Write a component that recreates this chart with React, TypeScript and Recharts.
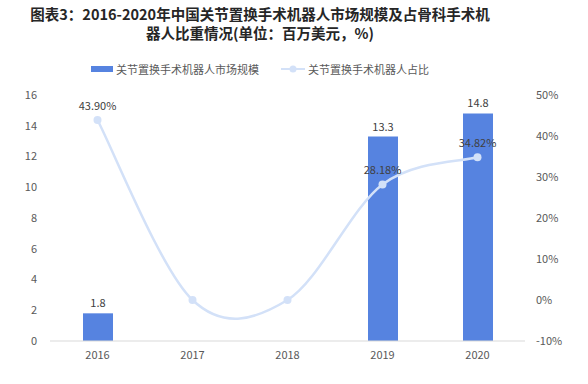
import {
  ComposedChart,
  Bar,
  Line,
  XAxis,
  YAxis,
  LabelList,
} from 'recharts';

const years = ['2016', '2017', '2018', '2019', '2020'];
const marketSize: (number | null)[] = [1.8, null, null, 13.3, 14.8];
const shareRatio = [43.9, 0, 0, 28.18, 34.82];
const leftTicks = [0, 2, 4, 6, 8, 10, 12, 14, 16];
const rightTicks = [-10, 0, 10, 20, 30, 40, 50];

const BAR_COLOR = '#5683E0';
const LINE_COLOR = '#D3E1F8';
const FONT = '"Noto Sans CJK SC", "Noto Sans", sans-serif';

const data = years.map((year, i) => ({
  year,
  size: marketSize[i],
  ratio: shareRatio[i],
}));

// Excel-style smoothed line (Catmull-Rom to cubic bezier)
const smoothCurve = (context: any) => {
  let pts: number[][] = [];
  return {
    areaStart() {},
    areaEnd() {},
    lineStart() {
      pts = [];
    },
    point(x: number, y: number) {
      pts.push([+x, +y]);
    },
    lineEnd() {
      if (!pts.length) return;
      context.moveTo(pts[0][0], pts[0][1]);
      for (let i = 0; i < pts.length - 1; i++) {
        const p0 = pts[i - 1] || pts[i];
        const p1 = pts[i];
        const p2 = pts[i + 1];
        const p3 = pts[i + 2] || p2;
        context.bezierCurveTo(
          p1[0] + (p2[0] - p0[0]) / 6,
          p1[1] + (p2[1] - p0[1]) / 6,
          p2[0] - (p3[0] - p1[0]) / 6,
          p2[1] - (p3[1] - p1[1]) / 6,
          p2[0],
          p2[1]
        );
      }
    },
  };
};

const tickStyle = { fill: '#595959', fontSize: 11, fontFamily: FONT };

const RatioLabel = (props: any) => {
  const { x, y, value } = props;
  if (!value) return null;
  return (
    <text
      x={x}
      y={y - 10}
      textAnchor="middle"
      fill="#404040"
      fontSize={11}
      fontFamily={FONT}
    >
      {value.toFixed(2) + '%'}
    </text>
  );
};

const ChartLegend = () => (
  <div
    style={{
      position: 'absolute',
      left: 0,
      top: 61,
      width: 520,
      display: 'flex',
      justifyContent: 'center',
      alignItems: 'center',
      fontFamily: FONT,
      fontSize: 11,
      color: '#595959',
      lineHeight: '16px',
    }}
  >
    <span style={{ display: 'inline-block', width: 22, height: 6, background: BAR_COLOR, marginRight: 3 }} />
    <span>关节置换手术机器人市场规模</span>
    <svg width={24} height={10} style={{ marginLeft: 22, marginRight: 3 }}>
      <line x1={0} y1={5} x2={24} y2={5} stroke={LINE_COLOR} strokeWidth={2} />
      <circle cx={12} cy={5} r={3.5} fill={LINE_COLOR} />
    </svg>
    <span>关节置换手术机器人占比</span>
  </div>
);

export default function App() {
  return (
    <div style={{ position: 'absolute', left: 0, top: 0, width: 588, height: 384, background: '#fff' }}>
      <div
        style={{
          position: 'absolute',
          left: 0,
          top: 4,
          width: 520,
          textAlign: 'center',
          fontFamily: FONT,
          fontWeight: 'bold',
          fontSize: 14.5,
          lineHeight: '19px',
          color: '#262626',
        }}
      >
        图表3：2016-2020年中国关节置换手术机器人市场规模及占骨科手术机
        <br />
        器人比重情况(单位：百万美元，%)
      </div>
      <ChartLegend />
      <ComposedChart
        width={588}
        height={384}
        data={data}
        margin={{ top: 95, right: 0, bottom: 13, left: 0 }}
        style={{ position: 'absolute', left: 0, top: 0 }}
      >
        <XAxis
          dataKey="year"
          height={30}
          tickLine={false}
          axisLine={{ stroke: '#D9D9D9' }}
          tick={tickStyle}
          tickMargin={4}
        />
        <YAxis
          yAxisId="left"
          width={50}
          domain={[0, 16]}
          ticks={leftTicks}
          axisLine={false}
          tickLine={false}
          tick={tickStyle}
          tickMargin={7}
          interval={0}
        />
        <YAxis
          yAxisId="right"
          orientation="right"
          width={63}
          domain={[-10, 50]}
          ticks={rightTicks}
          axisLine={false}
          tickLine={false}
          tick={tickStyle}
          tickMargin={5}
          interval={0}
          tickFormatter={(v: number) => `${v}%`}
        />
        <Bar yAxisId="left" dataKey="size" fill={BAR_COLOR} barSize={30} isAnimationActive={false}>
          <LabelList
            dataKey="size"
            position="top"
            offset={6}
            fill="#404040"
            fontSize={11}
            fontFamily={FONT}
          />
        </Bar>
        <Line
          yAxisId="right"
          dataKey="ratio"
          type={smoothCurve as any}
          stroke={LINE_COLOR}
          strokeWidth={2.5}
          dot={{ r: 4, fill: LINE_COLOR, stroke: LINE_COLOR, strokeWidth: 0 }}
          activeDot={false}
          isAnimationActive={false}
        >
          <LabelList dataKey="ratio" content={<RatioLabel />} />
        </Line>
      </ComposedChart>
    </div>
  );
}
